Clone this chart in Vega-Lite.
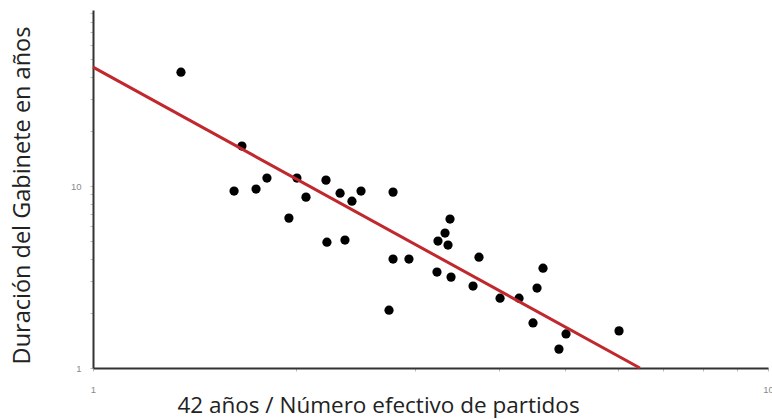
{
  "$schema": "https://vega.github.io/schema/vega-lite/v6.json",
  "width": 675,
  "height": 358,
  "autosize": {"type": "none"},
  "padding": {"left": 93, "top": 10, "right": 4, "bottom": 51},
  "background": "white",
  "config": {"view": {"stroke": null}, "font": "Open Sans"},
  "datasets": {
    "pts": [
      {"x": 1.350, "y": 42.3}, {"x": 1.662, "y": 16.6}, {"x": 1.618, "y": 9.39}, {"x": 1.744, "y": 9.63},
      {"x": 1.810, "y": 11.07}, {"x": 2.005, "y": 11.07}, {"x": 2.068, "y": 8.70}, {"x": 1.951, "y": 6.67},
      {"x": 2.214, "y": 10.79}, {"x": 2.323, "y": 9.15}, {"x": 2.419, "y": 8.27}, {"x": 2.495, "y": 9.39},
      {"x": 2.221, "y": 4.92}, {"x": 2.362, "y": 5.05}, {"x": 2.783, "y": 9.27}, {"x": 2.783, "y": 3.97},
      {"x": 2.938, "y": 3.97}, {"x": 2.745, "y": 2.08}, {"x": 3.380, "y": 6.59}, {"x": 3.323, "y": 5.52},
      {"x": 3.244, "y": 4.99}, {"x": 3.357, "y": 4.74}, {"x": 3.233, "y": 3.37}, {"x": 3.392, "y": 3.16},
      {"x": 3.731, "y": 4.07}, {"x": 3.656, "y": 2.82}, {"x": 4.009, "y": 2.42}, {"x": 4.277, "y": 2.42},
      {"x": 4.642, "y": 3.54}, {"x": 4.548, "y": 2.75}, {"x": 4.486, "y": 1.77}, {"x": 5.021, "y": 1.54},
      {"x": 4.901, "y": 1.27}, {"x": 6.016, "y": 1.60}
    ],
    "fit": [{"x": 1, "y": 45.1}, {"x": 6.46, "y": 1}]
  },
  "layer": [
    {
      "data": {"name": "pts"},
      "mark": {"type": "point", "filled": true, "color": "black", "opacity": 1, "size": 85},
      "encoding": {
        "x": {
          "field": "x", "type": "quantitative",
          "scale": {"type": "log", "domain": [1, 10], "nice": false},
          "axis": {
            "values": [1, 2, 3, 4, 5, 6, 7, 8, 9, 10],
            "labelExpr": "(datum.value == 1 || datum.value == 10) ? toString(datum.value) : ''",
            "labelOverlap": false, "labelFlush": false,
            "labelFont": "Liberation Sans", "labelFontSize": 9.5, "labelColor": "#8a8a8a",
            "labelPadding": 13, "tickSize": 3, "tickColor": "#bbbbbb",
            "domainColor": "#333333", "domainWidth": 2, "grid": false,
            "title": "42 años / Número efectivo de partidos",
            "titleFont": "Open Sans", "titleFontSize": 22.5, "titleFontWeight": "normal",
            "titleColor": "#222222", "titleX": 285, "titleY": 44,
            "titleAlign": "center", "titleBaseline": "alphabetic", "titleAnchor": "start"
          }
        },
        "y": {
          "field": "y", "type": "quantitative",
          "scale": {"type": "log", "domain": [1, 93], "nice": false},
          "axis": {
            "values": [1, 2, 3, 4, 5, 6, 7, 8, 9, 10, 20, 30, 40, 50, 60, 70, 80, 90],
            "labelExpr": "(datum.value == 1 || datum.value == 10) ? toString(datum.value) : ''",
            "labelOverlap": false, "labelFlush": false,
            "labelFont": "Liberation Sans", "labelFontSize": 9.5, "labelColor": "#8a8a8a",
            "labelPadding": 9, "tickSize": 3, "tickColor": "#bbbbbb",
            "domainColor": "#333333", "domainWidth": 2, "grid": false,
            "title": "Duración del Gabinete en años",
            "titleFont": "Open Sans", "titleFontSize": 23.5, "titleFontWeight": "normal",
            "titleColor": "#222222", "titleAngle": -90, "titleX": -64, "titleY": 185,
            "titleAlign": "center", "titleBaseline": "alphabetic", "titleAnchor": "start"
          }
        }
      }
    },
    {
      "data": {"name": "fit"},
      "mark": {"type": "line", "color": "#c0282d", "strokeWidth": 3},
      "encoding": {
        "x": {"field": "x", "type": "quantitative"},
        "y": {"field": "y", "type": "quantitative"}
      }
    }
  ]
}
